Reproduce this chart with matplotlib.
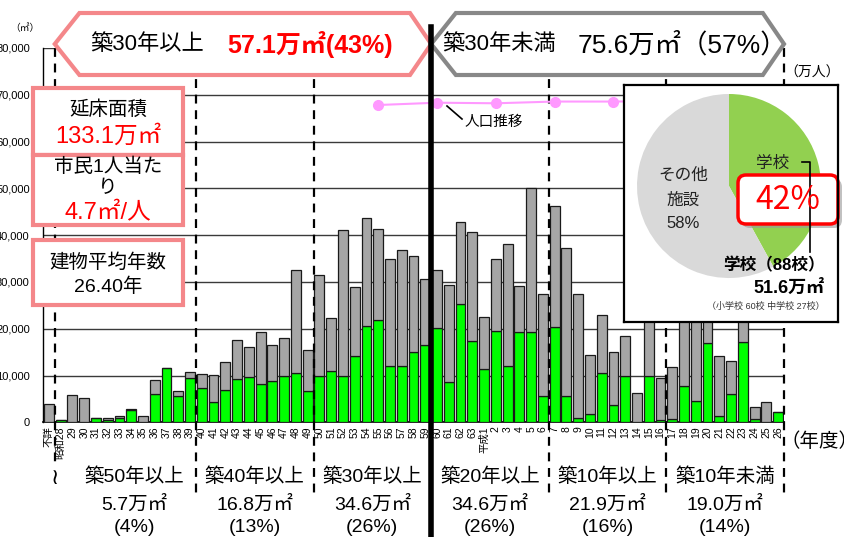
import matplotlib
matplotlib.use("Agg")
import matplotlib.pyplot as plt
import matplotlib.transforms as mtransforms
from matplotlib.patches import Polygon, Rectangle, FancyBboxPatch
from matplotlib.lines import Line2D
import numpy as np

plt.rcParams["font.family"] = ["Liberation Sans", "Noto Sans CJK JP", "DejaVu Sans"]

# construction year (年度)
years = ["不詳", "昭和28", "29", "30", "31", "32", "33", "34", "35", "36", "37", "38",
         "39", "40", "41", "42", "43", "44", "45", "46", "47", "48", "49", "50", "51",
         "52", "53", "54", "55", "56", "57", "58", "59", "60", "61", "62", "63",
         "平成1", "2", "3", "4", "5", "6", "7", "8", "9", "10", "11", "12", "13", "14",
         "15", "16", "17", "18", "19", "20", "21", "22", "23", "24", "25", "26"]

# total floor area per year (m2) and the school part of it
total_area = [3900, 400, 5900, 5100, 900, 1000, 1400, 2900, 1400, 9100, 11600, 6700,
              10700, 10400, 10200, 12900, 17500, 16100, 19300, 16600, 18000, 32500,
              15400, 31400, 22300, 41200, 28900, 43600, 41400, 34800, 36900, 35600,
              30600, 32600, 29300, 42900, 40700, 22400, 34900, 38100, 29100, 50000,
              27500, 46200, 37300, 27400, 14400, 23000, 15000, 18500, 6300, 25000,
              9400, 11800, 26000, 25000, 23000, 14200, 13000, 24000, 3200, 4400, 2100]
school_area = [0, 400, 0, 0, 900, 500, 900, 2700, 0, 6000, 11600, 5700,
               9400, 7400, 4400, 6900, 9200, 9600, 8100, 8900, 10000, 10500,
               6600, 9800, 10900, 9900, 14100, 20600, 21800, 12100, 12100, 15000,
               16600, 20200, 8700, 25300, 17400, 11400, 19600, 12000, 19300, 19400,
               5600, 20300, 5700, 900, 1800, 10500, 3700, 9900, 0, 9900,
               500, 700, 7800, 4600, 16900, 1400, 6100, 17200, 600, 0, 2100]

# population (万人), census years
pop_years = ["55", "60", "2", "7", "12", "17", "22"]
pop_index = [28, 33, 38, 43, 48, 53, 58]
population = [27.55, 27.75, 27.7, 27.85, 27.85, 27.9, 27.9]

# age groups
group_names = ["築50年以上", "築40年以上", "築30年以上", "築20年以上", "築10年以上", "築10年未満"]
group_area = ["5.7万㎡", "16.8万㎡", "34.6万㎡", "34.6万㎡", "21.9万㎡", "19.0万㎡"]
group_pct = ["(4%)", "(13%)", "(26%)", "(26%)", "(16%)", "(14%)"]
group_bounds = [0.5, 12.5, 22.5, 32.5, 42.5, 52.5, 62.5]

pie_labels = ["学校", "その他施設"]
pie_share = [42, 58]

W, H = 844, 537
fig = plt.figure(figsize=(W / 100, H / 100), dpi=100)
px = mtransforms.Affine2D().scale(1 / W, -1 / H).translate(0, 1) + fig.transFigure

ax = fig.add_axes([43 / W, 1 - 422.3 / H, (784 - 43) / W, (422.3 - 48) / H])
x = np.arange(len(years))
other_area = np.array(total_area) - np.array(school_area)
ax.bar(x, school_area, width=0.84, color="#00FF00", edgecolor="#1a1a1a", linewidth=0.9, zorder=3)
ax.bar(x, other_area, bottom=school_area, width=0.84, color="#A6A6A6",
       edgecolor="#1a1a1a", linewidth=0.9, zorder=3)
ax.set_xlim(-0.5, 62.5)
ax.set_ylim(0, 80000)
ax.set_yticks(np.arange(0, 80001, 10000))
ax.set_yticklabels([f"{v:,}" for v in range(0, 80001, 10000)], fontsize=8)
ax.set_xticks(x)
ax.set_xticklabels(years, rotation=90, fontsize=7.5, va="top")
ax.tick_params(axis="both", length=0)
ax.tick_params(axis="y", pad=9.5)
ax.tick_params(axis="x", pad=3)
ax.yaxis.grid(True, color="#3a3a3a", linewidth=1)
ax.set_axisbelow(True)
for s in ["top", "right"]:
    ax.spines[s].set_visible(False)
ax.spines["left"].set_linewidth(1)
ax.spines["bottom"].set_linewidth(1.2)

bt = mtransforms.blended_transform_factory(ax.transData, px)

# group boundaries
for b in group_bounds:
    if b == 32.5:
        continue
    ax.plot([b, b], [48, 495], transform=bt, color="black", lw=1.6,
            ls=(0, (4, 3)), clip_on=False, zorder=4)
ax.text(0.5, 478, "≀", transform=bt, fontsize=16, ha="center", va="center",
        family="DejaVu Sans", backgroundcolor="white", zorder=5, clip_on=False)

# population line
ax2 = ax.twinx()
ax2.plot(pop_index, population, color="#FF99FF", lw=1.5, marker="o", markersize=7,
         markeredgecolor="#FF99FF")
ax2.set_ylim(0, 32.5)
ax2.set_xlim(-0.5, 62.5)
ax2.axis("off")

fig.add_artist(Line2D([447, 462], [106, 119], transform=px, color="black", lw=1.2))
fig.text(465, 122, "人口推移", transform=px, fontsize=10.5, va="center", ha="left")
fig.text(784, 73, "（万人）", transform=px, fontsize=10, va="center", ha="left")
fig.text(25, 28, "（㎡）", transform=px, fontsize=7, va="center", ha="center")

# bottom age group labels
for i, name in enumerate(group_names):
    cx = 7.3 if i == 0 else (group_bounds[i] + group_bounds[i + 1]) / 2
    fig.text(cx, 477, name, transform=bt, fontsize=14, ha="center", va="center")
    fig.text(cx, 505, group_area[i], transform=bt, fontsize=14, ha="center", va="center")
    fig.text(cx, 528, group_pct[i], transform=bt, fontsize=14, ha="center", va="center")
fig.text(781, 442, "（年度）", transform=px, fontsize=14, ha="left", va="center")

# top banners
pink = "#F4878A"
gray = "#888888"
for x0, x1, col in [(0.5, 32.5, pink), (32.5, 62.5, gray)]:
    pts = [(x0, 44), (x0 + 2.1, 13), (x1 - 1.8, 13), (x1, 44), (x1 - 1.8, 75), (x0 + 2.1, 75)]
    fig.add_artist(Polygon(pts, closed=True, transform=bt, facecolor="white",
                           edgecolor=col, lw=3, zorder=2))
fig.text(90, 45, "築30年以上", transform=px, fontsize=16, va="center", ha="left", zorder=3)
fig.text(227, 45, "57.1万㎡(43%)", transform=px, fontsize=18, va="center", ha="left",
         color="#FF0000", weight="bold", zorder=3)
fig.text(442, 45, "築30年未満", transform=px, fontsize=16, va="center", ha="left", zorder=3)
fig.text(578, 45, "75.6万㎡（57%）", transform=px, fontsize=19, va="center", ha="left", zorder=3)

fig.add_artist(Line2D([32.5, 32.5], [27, 537], transform=bt, color="black", lw=4, zorder=4))

# info boxes on the left
for top, bottom in [(88, 155), (155, 225), (240, 305)]:
    fig.add_artist(Rectangle((33, bottom), 150, top - bottom, transform=px,
                             facecolor="white", edgecolor=pink, lw=3, zorder=2))
fig.text(108, 110, "延床面積", transform=px, fontsize=14, ha="center", va="center", zorder=3)
fig.text(108, 136, "133.1万㎡", transform=px, fontsize=17, ha="center", va="center",
         color="#FF0000", zorder=3)
fig.text(108, 167, "市民1人当た", transform=px, fontsize=14, ha="center", va="center", zorder=3)
fig.text(108, 189, "り", transform=px, fontsize=14, ha="center", va="center", zorder=3)
fig.text(108, 213, "4.7㎡/人", transform=px, fontsize=17, ha="center", va="center",
         color="#FF0000", zorder=3)
fig.text(108, 263, "建物平均年数", transform=px, fontsize=14, ha="center", va="center", zorder=3)
fig.text(108, 287, "26.40年", transform=px, fontsize=14, ha="center", va="center", zorder=3)

# pie inset
pax = fig.add_axes([624 / W, 1 - 322 / H, 214 / W, 237 / H])
pax.pie(pie_share, colors=["#92D050", "#D9D9D9"], startangle=90, counterclock=False,
        center=(105, 136), radius=92, frame=True)
pax.set_xlim(0, 214)
pax.set_ylim(0, 237)
pax.set_xticks([])
pax.set_yticks([])
for s in pax.spines.values():
    s.set_linewidth(1.6)
    s.set_color("black")
pax.set_facecolor("white")

pax.text(59, 147, "その他", fontsize=12, ha="center", va="center", color="#222222")
pax.text(59, 122, "施設", fontsize=12, ha="center", va="center", color="#222222")
pax.text(59, 99, f"{pie_share[1]}%", fontsize=12, ha="center", va="center", color="#222222")
pax.text(149, 159, pie_labels[0], fontsize=12, ha="center", va="center", color="#222222")
pax.plot([178, 186, 186], [160, 160, 70], color="black", lw=1.2, clip_on=False)
pax.add_patch(FancyBboxPatch((118, 94), 100, 49, boxstyle="round,pad=0,rounding_size=8",
                             facecolor="#999999", edgecolor="none", alpha=0.6, clip_on=False))
pax.add_patch(FancyBboxPatch((114, 98), 100, 49, boxstyle="round,pad=0,rounding_size=8",
                             facecolor="white", edgecolor="#FF0000", lw=2.5, clip_on=False))
pax.text(164, 122, f"{pie_share[0]}%", fontsize=23, ha="center", va="center", color="#FF0000",
         family=["Noto Sans CJK JP"])
pax.text(201, 57, "学校（88校）", fontsize=12, ha="right", va="center", weight="bold")
pax.text(201, 34, "51.6万㎡", fontsize=13, ha="right", va="center", weight="bold")
pax.text(201, 16, "（小学校 60校 中学校 27校）", fontsize=6.5, ha="right", va="center",
         color="#333333")

fig.savefig("out.png", dpi=100)
